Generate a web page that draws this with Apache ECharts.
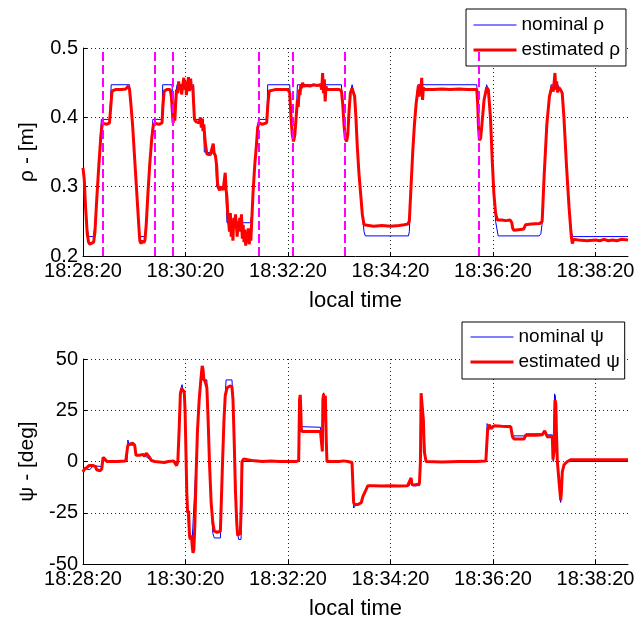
<!DOCTYPE html>
<html>
<head>
<meta charset="utf-8">
<script src="https://cdn.jsdelivr.net/npm/echarts@6/dist/echarts.min.js"></script>
<style>
  html, body { margin: 0; padding: 0; background: #fff; }
  #chart { width: 644px; height: 621px; }
</style>
</head>
<body>
<div id="chart"></div>
<script>
// time in seconds since 18:28:20
const timeTicks = ['18:28:20', '18:30:20', '18:32:20', '18:34:20', '18:36:20', '18:38:20'];

// rho - [m]
const rhoNominal = [
  [0, 0.325], [2, 0.3], [5, 0.24], [6.5, 0.228], [12, 0.228], [13.5, 0.24], [16, 0.28], [18.5, 0.33],
  [21, 0.385], [21.5, 0.397], [31, 0.397], [32, 0.42], [33, 0.447], [54.5, 0.447], [56, 0.42], [58, 0.39],
  [60, 0.35], [62, 0.31], [64, 0.27], [66, 0.235], [67, 0.228], [73, 0.228], [74, 0.245], [76, 0.29],
  [78, 0.33], [80.5, 0.37], [81.8, 0.397], [92.5, 0.397], [93.3, 0.447], [104.2, 0.447], [105, 0.43],
  [106, 0.41], [107.5, 0.42], [110, 0.447], [129.5, 0.447], [130, 0.397], [141, 0.397], [142, 0.35],
  [155, 0.348], [156.5, 0.3], [167, 0.3], [168.5, 0.248], [196, 0.248], [197.5, 0.26], [199, 0.29],
  [201, 0.33], [203, 0.36], [204.5, 0.385], [205.5, 0.397], [215.4, 0.397], [216.2, 0.447], [242, 0.447],
  [243.5, 0.4], [245, 0.375], [246.5, 0.367], [248, 0.375], [249.5, 0.4], [251, 0.447], [302.5, 0.447],
  [304, 0.42], [305.5, 0.39], [307, 0.37], [308.5, 0.365], [310, 0.375], [311.5, 0.41], [313, 0.435],
  [315, 0.447], [316.5, 0.447], [318, 0.43], [319.5, 0.4], [321, 0.36], [323, 0.32], [325, 0.29],
  [327, 0.26], [329, 0.235], [330.5, 0.229], [381, 0.229], [382, 0.235], [384, 0.3], [386, 0.35],
  [388, 0.39], [390, 0.42], [392, 0.447], [461, 0.447], [462, 0.42], [463, 0.385], [464, 0.367],
  [465.5, 0.37], [467, 0.39], [469.5, 0.425], [472.5, 0.447], [474.5, 0.44], [477, 0.4], [479, 0.34],
  [481, 0.29], [483, 0.25], [486, 0.229], [534, 0.229], [536, 0.232], [537.8, 0.25], [540, 0.32],
  [543, 0.39], [546, 0.43], [548, 0.447], [556, 0.447], [558, 0.44], [561, 0.435], [563, 0.4],
  [566, 0.33], [569, 0.27], [571.5, 0.235], [573.5, 0.228], [638, 0.228]
];
const rhoEstimated = [
  [0, 0.327], [1.5, 0.31], [3, 0.27], [5, 0.232], [6.5, 0.22], [8, 0.217], [10, 0.218], [12.5, 0.22],
  [14, 0.235], [16, 0.28], [18.5, 0.33], [21, 0.375], [22.5, 0.39], [25, 0.391], [28, 0.39], [31, 0.392],
  [32.5, 0.415], [34, 0.438], [38, 0.44], [45, 0.44], [50, 0.441], [53, 0.445], [54.5, 0.44], [56, 0.42],
  [58, 0.39], [60, 0.35], [62, 0.31], [64, 0.27], [65.5, 0.24], [66.5, 0.222], [68, 0.218], [69.5, 0.222],
  [71, 0.219], [72.5, 0.223], [74, 0.245], [76, 0.29], [78, 0.33], [80.5, 0.37], [82.5, 0.39], [85, 0.391],
  [89, 0.39], [92.5, 0.392], [93.5, 0.415], [95, 0.438], [98, 0.44], [102, 0.44], [103.5, 0.43],
  [104.5, 0.41], [105.5, 0.392], [106.5, 0.405], [107.5, 0.395], [108.5, 0.42], [109.5, 0.44], [111, 0.435],
  [112, 0.452], [113, 0.44], [114.5, 0.447], [115.5, 0.433], [117, 0.448], [118, 0.457], [119, 0.44],
  [120, 0.452], [121, 0.432], [122, 0.446], [123.5, 0.458], [124.5, 0.438], [126, 0.456], [127, 0.44],
  [128.5, 0.445], [129.5, 0.42], [130.5, 0.397], [132, 0.394], [134, 0.396], [136, 0.392], [137.5, 0.4],
  [138.5, 0.385], [139.5, 0.398], [140.5, 0.38], [141.5, 0.39], [142.5, 0.372], [143.5, 0.36], [145, 0.347],
  [147, 0.346], [149, 0.346], [151, 0.347], [152.5, 0.362], [153.5, 0.348], [155, 0.345], [156.5, 0.33],
  [157.5, 0.305], [158.5, 0.298], [160, 0.295], [162, 0.3], [164, 0.295], [165.5, 0.31], [166.5, 0.32],
  [167.5, 0.296], [168.5, 0.285], [169.5, 0.26], [170.5, 0.248], [171.5, 0.235], [172.5, 0.262],
  [173.5, 0.228], [174.5, 0.25], [175.5, 0.222], [176.5, 0.255], [177.5, 0.24], [178.5, 0.26],
  [179.5, 0.245], [180.5, 0.228], [181.5, 0.25], [182.5, 0.238], [183.5, 0.255], [184.5, 0.235],
  [185.5, 0.26], [186.5, 0.225], [187.5, 0.245], [188.5, 0.22], [189.5, 0.238], [190.5, 0.215],
  [191.5, 0.232], [192.5, 0.222], [193.5, 0.24], [194.5, 0.217], [195.5, 0.228], [196.5, 0.222],
  [197.5, 0.25], [199, 0.29], [201, 0.33], [203, 0.36], [204.5, 0.385], [206, 0.392], [210, 0.39],
  [215, 0.392], [216.5, 0.42], [218, 0.438], [225, 0.44], [235, 0.44], [240, 0.44], [242, 0.435],
  [243.5, 0.4], [245, 0.375], [246.5, 0.365], [248, 0.375], [249.5, 0.4], [251, 0.425], [252, 0.415],
  [253, 0.44], [254, 0.432], [255, 0.448], [256, 0.442], [257, 0.45], [258.5, 0.445], [262, 0.446],
  [266, 0.445], [270, 0.447], [274, 0.446], [278, 0.447], [279.5, 0.44], [280.5, 0.464], [281.5, 0.435],
  [282.5, 0.455], [283.5, 0.423], [284.5, 0.445], [285.5, 0.44], [290, 0.44], [295, 0.44], [300, 0.44],
  [302.5, 0.438], [304, 0.42], [305.5, 0.39], [307, 0.37], [308.5, 0.365], [310, 0.375], [311.5, 0.41],
  [313, 0.435], [315, 0.442], [316.5, 0.44], [318, 0.43], [319.5, 0.4], [321, 0.36], [323, 0.32],
  [325, 0.29], [327, 0.26], [329, 0.245], [331, 0.243], [340, 0.243], [350, 0.244], [360, 0.243],
  [370, 0.244], [376, 0.245], [380, 0.246], [382, 0.25], [384, 0.3], [386, 0.35], [388, 0.39], [390, 0.42],
  [391.5, 0.435], [392.5, 0.445], [393.5, 0.43], [394.5, 0.448], [395.5, 0.438], [396.5, 0.457],
  [397.5, 0.425], [398.5, 0.443], [399.5, 0.44], [410, 0.44], [420, 0.441], [430, 0.44], [440, 0.441],
  [450, 0.44], [461, 0.44], [462, 0.42], [463, 0.385], [464, 0.367], [465.5, 0.37], [467, 0.39],
  [469.5, 0.425], [472.5, 0.443], [474.5, 0.44], [477, 0.4], [479, 0.34], [481, 0.29], [483, 0.262],
  [485, 0.252], [490, 0.252], [495, 0.251], [500, 0.252], [502, 0.248], [503, 0.24], [504.5, 0.237],
  [510, 0.238], [516, 0.239], [518, 0.245], [525, 0.246], [535, 0.247], [537.5, 0.25], [540, 0.32],
  [543, 0.39], [546, 0.43], [548, 0.44], [549.5, 0.445], [550.5, 0.437], [551.5, 0.45], [552.5, 0.464],
  [553.5, 0.44], [554.5, 0.452], [555.5, 0.436], [557, 0.443], [559, 0.44], [561, 0.435], [563, 0.4],
  [566, 0.33], [569, 0.27], [571.5, 0.23], [572.8, 0.218], [574.5, 0.224], [580, 0.223], [590, 0.222],
  [600, 0.223], [605, 0.222], [610, 0.224], [615, 0.222], [620, 0.223], [625, 0.222], [630, 0.224],
  [638, 0.223]
];
// magenta dashed markers (seconds)
const rhoEvents = [23, 84, 104.5, 206, 246, 307, 463];

// psi - [deg]
const psiNominal = [
  [0, -5], [2, -3.5], [3, -3.5], [8, -4], [12, -2], [22, -2.5], [23.5, 1.5], [26, 0], [51.5, 0],
  [52.5, 10.5], [54, 8], [60.5, 8], [62, 3], [72, 3], [74, 3.5], [78, 1], [80, 0], [111, 0], [112.5, 20],
  [114, 35], [116, 37.5], [117.5, 37.3], [119, 30], [120.5, 5], [122, -20], [124, -37], [128, -37],
  [130, -20], [132.5, 0], [135, 25], [137, 38], [139, 40], [145, 39.8], [146.5, 20], [148, 0], [150, -20],
  [152, -35], [153.7, -37.3], [160.8, -37.3], [162, -25], [163.5, 0], [165.5, 25], [167.5, 39.8],
  [174.4, 39.8], [175.6, 30], [177, 10], [179, -20], [181, -35], [182.2, -38], [185, -38], [186.1, -20],
  [187, 0], [252.5, 0], [253.5, 17], [255.2, 16.7], [278, 16.7], [279.5, 16], [280, 5], [281, 30],
  [281.7, 33.5], [282.5, 33], [284.8, 10], [285.6, 0], [314.9, 0], [316.8, -22.7], [318, -22.5],
  [320, -21], [325.8, -20], [327.7, -17], [330, -15], [333.5, -11.8], [382, -11.8], [384, -8.5],
  [385, -11.8], [393.8, -11.8], [395, 0], [395.8, 33], [397.7, 33], [398.5, 20], [401, 0], [471.6, 0],
  [473, 18.5], [475.5, 17], [481.4, 17.4], [500.8, 17.4], [502.8, 12.5], [516.4, 12.5], [518.3, 13.5],
  [537.8, 13.5], [540.5, 14], [543.6, 13], [549.4, 13], [550.5, 0], [552, 33], [553, 32], [554.2, 15],
  [555.3, 0], [557.3, -10], [559.2, -20], [560, -15], [561.1, -5], [563.1, -1.6], [567, 0], [638, 0]
];
const psiEstimated = [
  [0, -5], [2, -3.5], [4.5, -3], [7, -2], [12, -2], [14.5, -2.5], [16, -4], [20, -4.5], [22, -3.5],
  [23.5, 2], [26, 1], [28, 0], [40, 0], [50, 0.2], [51.5, 0.5], [52.5, 8], [55, 8.5], [58, 9], [60.5, 8],
  [62, 3], [66, 3], [70, 3.5], [72, 2.5], [74, 4], [76, 3.5], [78, 2], [80, 0.5], [84, 0], [95, -0.5],
  [100, 0], [106, 0.3], [108, -1], [109.5, -2], [111, 0], [112.5, 15], [114, 33], [115.5, 35.5], [117, 36],
  [118.5, 34], [119.5, 25], [120.5, 5], [121.5, -15], [122.5, -25], [123.7, -24], [124.5, -35],
  [125.6, -38], [127, -36], [128, -42], [128.8, -44.6], [129.8, -43], [131, -30], [132.5, -5], [134, 15],
  [136, 30], [138, 40], [139.5, 46.6], [140.5, 45], [141.5, 40], [143, 39], [145, 36], [146.5, 20],
  [148, 0], [150, -20], [152, -30], [153.7, -34], [157, -34.5], [160.8, -34], [161.5, -25], [163, -5],
  [165, 20], [166.5, 32], [168.6, 36], [172, 36.8], [174.4, 36.5], [175.6, 30], [177, 10], [178.5, -15],
  [180, -30], [181, -36], [182.2, -36.5], [184.2, -35], [185.3, -20], [186.1, 0], [188, 1.2], [194, 0.8],
  [198, 0.5], [200, 0], [210, 0], [220, 0.3], [230, 0], [240, 0], [250, 0], [252.5, 0.5], [253.5, 30],
  [254.3, 32.5], [255, 25], [255.5, 16], [256.5, 14.6], [265, 14.6], [275, 14.6], [278, 14.6], [279.5, 14],
  [280.2, 5], [280.8, 30], [281.7, 33], [282.5, 20], [283, 31], [283.7, 32], [284.8, 10], [285.6, 0],
  [290, 0], [300, 0], [305, 0.3], [310, 0], [314.9, -0.5], [316.8, -20], [318, -21], [320, -21.5],
  [322, -21], [325.8, -20], [327.7, -17], [330, -15], [333.5, -11.8], [340, -11.8], [350, -12],
  [360, -11.8], [370, -12], [380, -11.8], [382, -12.5], [384.1, -8], [385, -11], [388, -11.5],
  [393.8, -11], [395, 0], [395.8, 33.3], [397.7, 34], [398.5, 20], [399.5, 5], [401.6, 0], [403.6, -0.5],
  [420, -0.3], [440, 0], [460, 0], [471.6, 0.2], [473.6, 15], [475.5, 18], [477.5, 16], [481.4, 17.4],
  [490, 17.2], [500.8, 17], [502.8, 12], [504.7, 11], [516.4, 11], [518.3, 12.8], [530, 12.8],
  [537.8, 13], [540.5, 15], [543.6, 12], [547, 12.2], [549.4, 12], [550.2, 1], [551.4, 5], [552.6, 30],
  [553.5, 28], [554.2, 15], [555.3, 0], [557.3, -10], [559.2, -19], [560, -15], [561.1, -5],
  [563.1, -1.6], [567, 0], [570.8, 0.8], [590, 0.8], [605.8, 0.8], [620, 0.8], [638, 0.8]
];

const FONT = '"Liberation Sans", Arial, Helvetica, sans-serif';
const gridDots = { color: '#222', width: 1, type: [1, 3] };

function xAxisFor(gridIndex) {
  return {
    type: 'value', gridIndex, min: 0, max: 638, interval: 120,
    name: 'local time', nameLocation: 'middle', nameGap: 34,
    nameTextStyle: { fontSize: 22, color: '#000', fontFamily: FONT },
    axisLine: { onZero: false, lineStyle: { color: '#000', width: 1 } },
    axisTick: { inside: true, length: 4, lineStyle: { color: '#000' } },
    axisLabel: {
      color: '#000', fontSize: 20, fontFamily: FONT, margin: 5, showMaxLabel: false,
      formatter: v => timeTicks[Math.round(v / 120)] || ''
    },
    splitLine: { show: true, showMaxLine: false, lineStyle: gridDots }
  };
}

function yAxisFor(gridIndex, name, min, max, interval) {
  return {
    type: 'value', gridIndex, min, max, interval,
    name, nameLocation: 'middle', nameGap: 45,
    nameTextStyle: { fontSize: 21, color: '#000', fontFamily: FONT },
    axisLine: { show: true, lineStyle: { color: '#000', width: 1 } },
    axisTick: { show: true, inside: true, length: 4, lineStyle: { color: '#000' } },
    axisLabel: { color: '#000', fontSize: 20, fontFamily: FONT, margin: 5 },
    splitLine: { show: true, showMinLine: false, lineStyle: gridDots }
  };
}

function legendFor(names, left, top, padding) {
  return {
    orient: 'vertical', left, top, padding,
    itemWidth: 43, itemHeight: 14, itemGap: 5,
    backgroundColor: '#fff', borderColor: '#000', borderWidth: 1,
    textStyle: { fontSize: 19, lineHeight: 20, color: '#000', fontFamily: FONT },
    itemStyle: { opacity: 0 },
    data: [
      { name: names[0], lineStyle: { width: 1 } },
      { name: names[1], lineStyle: { width: 3 } }
    ],
    selectedMode: false
  };
}

function lineSeries(name, data, axis, color, width, z) {
  return {
    name, type: 'line', data, xAxisIndex: axis, yAxisIndex: axis,
    symbol: 'none', showSymbol: false, z,
    lineStyle: { color, width }, itemStyle: { color },
    emphasis: { disabled: true }
  };
}

const chart = echarts.init(document.getElementById('chart'), null, { renderer: 'canvas' });
chart.setOption({
  animation: false,
  backgroundColor: '#fff',
  textStyle: { fontFamily: FONT },
  grid: [
    { left: 83, top: 48, width: 545, height: 208 },
    { left: 83, top: 359, width: 545, height: 206 }
  ],
  xAxis: [xAxisFor(0), xAxisFor(1)],
  yAxis: [
    yAxisFor(0, 'ρ - [m]', 0.2, 0.5, 0.1),
    yAxisFor(1, 'ψ - [deg]', -50, 50, 25)
  ],
  legend: [
    legendFor(['nominal ρ', 'estimated ρ'], 466, 9, [6, 6, 6, 6]),
    legendFor(['nominal ψ', 'estimated ψ'], 462, 322, [5, 5, 7, 7])
  ],
  series: [
    lineSeries('nominal ρ', rhoNominal, 0, '#0000ff', 1, 2),
    lineSeries('estimated ρ', rhoEstimated, 0, '#ff0000', 3, 3),
    {
      name: 'events', type: 'line', data: [], xAxisIndex: 0, yAxisIndex: 0, z: 4,
      markLine: {
        silent: true, symbol: ['none', 'none'], animation: false,
        label: { show: false },
        lineStyle: { color: '#ff00ff', width: 2, type: [9, 4] },
        emphasis: { disabled: true },
        data: rhoEvents.map(t => ({ xAxis: t }))
      }
    },
    lineSeries('nominal ψ', psiNominal, 1, '#0000ff', 1, 2),
    lineSeries('estimated ψ', psiEstimated, 1, '#ff0000', 3, 3)
  ]
});
</script>
</body>
</html>
